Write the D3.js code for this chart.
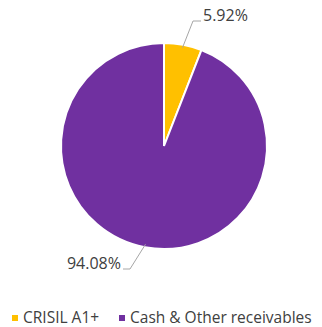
<!DOCTYPE html>
<html>
<head>
<meta charset="utf-8">
<script src="https://cdn.jsdelivr.net/npm/d3@7"></script>
<style>
  body { margin: 0; background: #fff; }
  svg text { font-family: "Open Sans", Lato, sans-serif; fill: #404040; }
</style>
</head>
<body>
<div id="chart"></div>
<script>
const categories = ["CRISIL A1+", "Cash & Other receivables"];
const values = [5.92, 94.08];
const colors = ["#FFC000", "#7030A0"];

const width = 322, height = 327;
const cx = 164, cy = 146, radius = 103;

const svg = d3.select("#chart").append("svg")
  .attr("width", width)
  .attr("height", height);

const pie = d3.pie().sort(null).value(d => d);
const arcs = pie(values);
const arc = d3.arc().innerRadius(0).outerRadius(radius);

const g = svg.append("g").attr("transform", `translate(${cx},${cy})`);

g.selectAll("path")
  .data(arcs)
  .join("path")
  .attr("d", arc)
  .attr("fill", (d, i) => colors[i])
  .attr("stroke", "#fff")
  .attr("stroke-width", 2);

// leader lines and labels (text baseline sits on the horizontal part)
const labelPos = [
  {elbow: [29, -125], end: [37, -125], anchor: "start", tx: 39},
  {elbow: [-34, 123], end: [-41, 123], anchor: "end", tx: -43}
];

arcs.forEach((d, i) => {
  const a = (d.startAngle + d.endAngle) / 2;
  const p = labelPos[i];
  const r0 = radius - 3;
  const start = [Math.sin(a) * r0, -Math.cos(a) * r0];
  g.append("polyline")
    .attr("points", [start, p.elbow, p.end].map(q => q.join(",")).join(" "))
    .attr("fill", "none")
    .attr("stroke", "#a6a6a6")
    .attr("stroke-width", 1);
  g.append("text")
    .attr("x", p.tx)
    .attr("y", p.end[1])
    .attr("text-anchor", p.anchor)
    .attr("font-size", 16)
    .text(values[i].toFixed(2) + "%");
});

// legend
const legend = svg.append("g").attr("transform", "translate(0,318)");
const legendX = [12, 119];
categories.forEach((c, i) => {
  const lg = legend.append("g").attr("transform", `translate(${legendX[i]},0)`);
  lg.append("rect")
    .attr("x", 0).attr("y", -3)
    .attr("width", 6).attr("height", 6)
    .attr("fill", colors[i]);
  lg.append("text")
    .attr("x", 11)
    .attr("dy", "0.35em")
    .attr("font-size", 15.5)
    .text(c);
});
</script>
</body>
</html>
